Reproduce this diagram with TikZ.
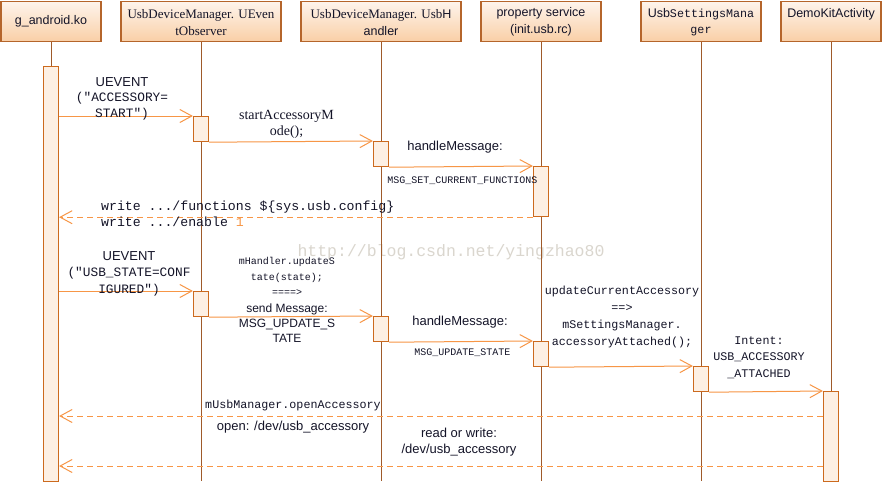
\documentclass[tikz,border=0pt]{standalone}
\usepackage{fontspec}
\setmainfont{Liberation Serif}
\setsansfont{Liberation Sans}
\setmonofont{Liberation Mono}
\usetikzlibrary{arrows.meta}
\definecolor{hdrtop}{HTML}{FEF4EC}
\definecolor{hdrbot}{HTML}{F9CFA6}
\definecolor{hdrborder}{HTML}{B5652B}
\definecolor{lifec}{HTML}{9E5A2A}
\definecolor{actfill}{HTML}{FDF0E4}
\definecolor{actborder}{HTML}{CC6A1E}
\definecolor{msgc}{HTML}{F79646}
\definecolor{wmark}{HTML}{DAD6CE}
\definecolor{txt}{HTML}{141428}
\begin{document}
\begin{tikzpicture}[x=1pt,y=-1pt,
  hdr/.style={draw=hdrborder, line width=1.2pt, top color=hdrtop, bottom color=hdrbot,
              minimum height=40pt, anchor=north, inner sep=0pt},
  act/.style={draw=actborder, line width=1.2pt, fill=actfill, minimum width=15pt,
              inner sep=0pt, anchor=north},
  life/.style={draw=lifec, line width=1pt},
  msg/.style={draw=msgc, line width=1pt, -{Straight Barb[length=12pt,width=13pt]}},
  ret/.style={msg, dash pattern=on 6pt off 4pt},
  lbl/.style={text=txt, inner sep=0pt, align=center},
  sansA/.style={font=\sffamily\fontsize{13}{16}\selectfont},
  sansH/.style={font=\sffamily\fontsize{12.5}{16.5}\selectfont},
]
\useasboundingbox (0,0) rectangle (883,483);
\fill[white] (0,0) rectangle (883,483);
\coordinate (bot) at (0,481);

% watermark
\node[inner sep=0pt, text=wmark, font=\ttfamily\fontsize{16.5}{18}\selectfont] (wm) at (451,252) {http://blog.csdn.net/yingzhao80};

% headers
\node[hdr, minimum width=100pt] (g) at (51,1) {};
\node[hdr, minimum width=160pt] (e) at (201,1) {};
\node[hdr, minimum width=160pt] (h) at (381,1) {};
\node[hdr, minimum width=120pt] (p) at (541,1) {};
\node[hdr, minimum width=120pt] (s) at (701,1) {};
\node[hdr, minimum width=100pt] (d) at (831,1) {};

\node[lbl, sansH] (gt) at (51,21) {g\_android.ko};
\node[lbl, font=\rmfamily\fontsize{13}{17}\selectfont] (et) at (201,22.5) {UsbDeviceManager. UEven\\tObserver};
\node[lbl, font=\sffamily\fontsize{12.5}{17}\selectfont] (ht) at (381,22.5) {{\rmfamily\fontsize{13}{17}\selectfont UsbDeviceManager. Usb}H\\andler};
\node[lbl, sansH] (pt) at (541,22) {property service\\(init.usb.rc)};
\node[lbl, sansH] (st) at (701,22) {Usb{\ttfamily\fontsize{11.7}{16.5}\selectfont SettingsMana}\\{\ttfamily\fontsize{11.7}{16.5}\selectfont ger}};
\node[lbl, sansH] (dt) at (831,14) {DemoKitActivity};

% activation bars (nodes)
\node[act, minimum height=415pt] (ga) at (51,66) {};
\node[act, minimum height=25pt] (e1) at (201,116) {};
\node[act, minimum height=25pt] (h1) at (381,141) {};
\node[act, minimum height=50pt] (p1) at (541,166) {};
\node[act, minimum height=25pt] (e2) at (201,291) {};
\node[act, minimum height=25pt] (h2) at (381,316) {};
\node[act, minimum height=25pt] (p2) at (541,341) {};
\node[act, minimum height=25pt] (s1) at (701,366) {};
\node[act, minimum height=90pt] (d1) at (831,391) {};

% lifelines
\begin{scope}[on background layer/.style={}]
\end{scope}
\draw[life] (g.south) -- (ga.north);
\draw[life] (e.south) -- (e1.north);
\draw[life] (e1.south) -- (e2.north);
\draw[life] (e2.south) -- (e2.south |- bot);
\draw[life] (h.south) -- (h1.north);
\draw[life] (h1.south) -- (h2.north);
\draw[life] (h2.south) -- (h2.south |- bot);
\draw[life] (p.south) -- (p1.north);
\draw[life] (p1.south) -- (p2.north);
\draw[life] (p2.south) -- (p2.south |- bot);
\draw[life] (s.south) -- (s1.north);
\draw[life] (s1.south) -- (s1.south |- bot);
\draw[life] (d.south) -- (d1.north);

% messages
\draw[msg] (e1.north west -| ga.east) -- (e1.north west);
\draw[msg] (e1.south east) -- (h1.north west);
\draw[msg] (h1.south east) -- (p1.north west);
\draw[ret] (p1.south west) -- (p1.south west -| ga.east);
\draw[msg] (e2.north west -| ga.east) -- (e2.north west);
\draw[msg] (e2.south east) -- (h2.north west);
\draw[msg] (h2.south east) -- (p2.north west);
\draw[msg] (p2.south east) -- (s1.north west);
\draw[msg] (s1.south east) -- (d1.north west);
\coordinate (r1) at (823,416);
\coordinate (r2) at (823,466);
\draw[ret] (d1.west |- r1) -- (r1 -| ga.east);
\draw[ret] (d1.west |- r2) -- (r2 -| ga.east);

% labels
\node[lbl, sansA] (l1a) at (122,82) {UEVENT};
\node[lbl, font=\ttfamily\fontsize{12.8}{16}\selectfont] (l1b) at (122,106) {("ACCESSORY=\\START")};
\node[lbl, font=\rmfamily\fontsize{14}{16}\selectfont] (l2) at (286.5,124) {startAccessoryM\\ode();};
\node[lbl, sansA] (l3a) at (455,147) {handleMessage:};
\node[lbl, font=\ttfamily\fontsize{10}{12}\selectfont] (l3b) at (462.5,181) {MSG\_SET\_CURRENT\_FUNCTIONS};
\node[lbl, align=left, anchor=west, font=\ttfamily\fontsize{13.2}{16}\selectfont] (l4) at (101,214) {write .../functions \$\{sys.usb.config\}\\write .../enable {\color{msgc}1}};
\node[lbl, sansA] (l5a) at (129,256) {UEVENT};
\node[lbl, font=\ttfamily\fontsize{12.8}{17}\selectfont] (l5b) at (129,281.5) {("USB\_STATE=CONF\\IGURED")};
\node[lbl, font=\ttfamily\fontsize{10}{15.5}\selectfont] (l6a) at (287,276.5) {mHandler.updateS\\tate(state);\\====>};
\node[lbl, font=\sffamily\fontsize{12}{15}\selectfont] (l6b) at (287,323) {send Message:\\MSG\_UPDATE\_S\\TATE};
\node[lbl, sansA] (l7a) at (460,322) {handleMessage:};
\node[lbl, font=\ttfamily\fontsize{10}{12}\selectfont] (l7b) at (462.5,353) {MSG\_UPDATE\_STATE};
\node[lbl, font=\ttfamily\fontsize{11.7}{17}\selectfont] (l8) at (622,316.5) {updateCurrentAccessory\\==>\\mSettingsManager.\\accessoryAttached();};
\node[lbl, font=\ttfamily\fontsize{11.7}{16.5}\selectfont] (l9) at (759,357.5) {Intent:\\USB\_ACCESSORY\\\_ATTACHED};
\node[lbl, font=\ttfamily\fontsize{11.7}{14}\selectfont] (l10a) at (293,405) {mUsbManager.openAccessory};
\node[lbl, sansA] (l10b) at (293,427) {open: /dev/usb\_accessory};
\node[lbl, sansA] (l11) at (459,442) {read or write:\\/dev/usb\_accessory};
\end{tikzpicture}
\end{document}
